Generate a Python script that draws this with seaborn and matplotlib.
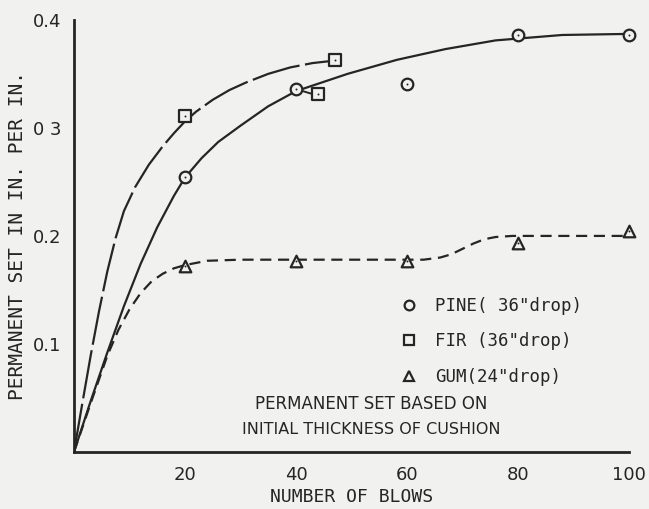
import matplotlib
matplotlib.use("Agg")
import matplotlib.pyplot as plt
from matplotlib.lines import Line2D
import seaborn as sns

# ---- data ----
blows_ticks = [20, 40, 60, 80, 100]
set_ticks = [0.1, 0.2, 0.3, 0.4]
set_tick_labels = ["0.1", "0.2", "0 3", "0.4"]

pine_x = [20, 40, 60, 80, 100]
pine_y = [0.255, 0.336, 0.341, 0.386, 0.386]
fir_x = [20, 44, 47]
fir_y = [0.311, 0.331, 0.363]
gum_x = [20, 40, 60, 80, 100]
gum_y = [0.172, 0.177, 0.177, 0.193, 0.205]

# fitted curves as drawn on the original
pine_curve_x = [0, 3, 6, 9, 12, 15, 18, 20, 23, 26, 30, 35, 40, 49.3, 58.2,
                67, 76, 88, 100]
pine_curve_y = [0, 0.047, 0.092, 0.135, 0.174, 0.208, 0.237, 0.254, 0.272, 0.287,
                0.302, 0.320, 0.334, 0.350, 0.363, 0.373, 0.381, 0.386, 0.387]
fir_curve_x = [0, 1.5, 3, 4.5, 6, 7.5, 9, 11, 13.5, 16, 18, 20, 22, 25, 28, 31,
               35, 39, 43, 46.5]
fir_curve_y = [0, 0.045, 0.089, 0.130, 0.167, 0.198, 0.223, 0.245, 0.266, 0.283,
               0.295, 0.306, 0.315, 0.326, 0.335, 0.342, 0.350, 0.356, 0.360, 0.362]
gum_curve_x = [0, 3, 6, 8, 10, 12, 14, 16, 18, 20, 24, 30, 40, 50, 63, 66, 68,
               70, 72, 74, 76, 79, 90, 100]
gum_curve_y = [0, 0.045, 0.089, 0.113, 0.132, 0.147, 0.158, 0.165, 0.170, 0.173,
               0.177, 0.178, 0.178, 0.178, 0.178, 0.180, 0.183, 0.188, 0.193, 0.197,
               0.199, 0.200, 0.200, 0.200]
link_x = [40.6, 43.2]
link_y = [0.335, 0.331]

ink = "#252525"
paper = "#f1f1ef"
mono = ["DejaVu Sans Mono"]

sns.set_theme(style="white")
plt.rcParams["font.family"] = ["DejaVu Sans"]

fig = plt.figure(figsize=(6.49, 5.09), dpi=100, facecolor=paper)
ax = fig.add_axes([0.114, 0.112, 0.855, 0.849])
ax.set_facecolor(paper)

sns.lineplot(x=pine_curve_x, y=pine_curve_y, ax=ax, color=ink, lw=1.6,
             sort=False, estimator=None)
sns.lineplot(x=fir_curve_x, y=fir_curve_y, ax=ax, color=ink, lw=1.6,
             sort=False, estimator=None, linestyle=(0, (22, 2.5)))
sns.lineplot(x=gum_curve_x, y=gum_curve_y, ax=ax, color=ink, lw=1.6,
             sort=False, estimator=None, linestyle=(0, (5, 3)))
sns.lineplot(x=link_x, y=link_y, ax=ax, color=ink, lw=1.4, sort=False, estimator=None)

for xs, ys, m in [(pine_x, pine_y, "o"), (fir_x, fir_y, "s"), (gum_x, gum_y, "^")]:
    sns.scatterplot(x=xs, y=ys, ax=ax, marker=m, s=70, facecolor=paper,
                    edgecolor=ink, linewidth=1.6, zorder=5, clip_on=False)
    sns.scatterplot(x=xs, y=ys, ax=ax, marker=".", s=8, color=ink,
                    linewidth=0, zorder=6, clip_on=False)

ax.set_xlim(0, 100)
ax.set_ylim(0, 0.4)
ax.set_xticks(blows_ticks)
ax.set_xticklabels([str(v) for v in blows_ticks])
ax.set_yticks(set_ticks)
ax.set_yticklabels(set_tick_labels)
for s in ["top", "right"]:
    ax.spines[s].set_visible(False)
for s in ["left", "bottom"]:
    ax.spines[s].set_color(ink)
    ax.spines[s].set_linewidth(2)
ax.tick_params(axis="both", direction="out", length=7, width=1.6, colors=ink,
               labelsize=13, pad=3)
ax.tick_params(axis="y", length=8, pad=1)

ax.set_xlabel("NUMBER OF BLOWS", fontsize=13, family=mono, color=ink, labelpad=3)
ax.set_ylabel("PERMANENT SET IN IN. PER IN.", fontsize=14, family=mono, color=ink,
              labelpad=4)

def handle(m):
    return Line2D([], [], marker=m, linestyle="none", markersize=7,
                  markerfacecolor=paper, markeredgecolor=ink, markeredgewidth=1.6)

leg = ax.legend([handle("o"), handle("s"), handle("^")],
                ['PINE( 36"drop)', 'FIR (36"drop)', 'GUM(24"drop)'],
                loc="upper left", bbox_to_anchor=(0.56, 0.395), frameon=False,
                prop={"family": mono, "size": 12.5}, handlelength=1.0,
                handletextpad=1.0, labelspacing=1.0, labelcolor=ink)

ax.text(0.535, 0.11, "PERMANENT SET BASED ON", transform=ax.transAxes,
        ha="center", va="center", fontsize=12, color=ink)
ax.text(0.535, 0.052, "INITIAL THICKNESS OF CUSHION", transform=ax.transAxes,
        ha="center", va="center", fontsize=11.5, color=ink)

fig.savefig("out.png", dpi=100, facecolor=paper)
